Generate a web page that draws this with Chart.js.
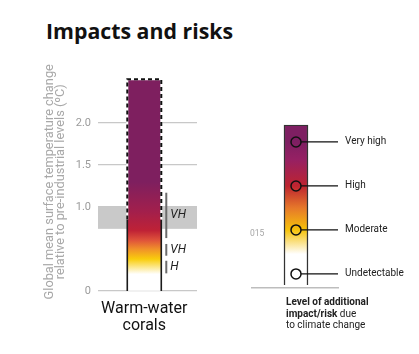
<!DOCTYPE html>
<html>
<head>
<meta charset="utf-8">
<script src="https://cdn.jsdelivr.net/npm/chart.js@4.4.1/dist/chart.umd.min.js"></script>
<style>
  html, body { margin: 0; padding: 0; background: #fff; }
  body { width: 419px; height: 354px; position: relative; overflow: hidden; font-family: Roboto, sans-serif; }
  #title { position: absolute; left: 46px; top: 19.8px; font: bold 21.3px/1 "Open Sans", sans-serif; color: #111; white-space: nowrap; }
  #main { position: absolute; left: 0; top: 0; }
  #key { position: absolute; left: 240px; top: 0; }
  #cut { position: absolute; left: 250px; top: 228px; font: 8.5px Roboto, sans-serif; color: #a5a5a5; }
  #keyNote { position: absolute; left: 286px; top: 296.4px; font: 10px/11.3px Roboto, sans-serif; color: #222; white-space: nowrap; }
</style>
</head>
<body>
<div id="title">Impacts and risks</div>
<canvas id="main" width="240" height="354"></canvas>
<canvas id="key" width="179" height="354"></canvas>
<div id="cut">015</div>
<div id="keyNote"><b>Level of additional</b><br><b>impact/risk</b> due<br>to climate change</div>
<script>
// values
const categories = [['Warm-water', 'corals']];
const barRange = [0, 2.52];          // transition bar, °C
const dashedAbove = 0.85;            // outline is dashed above this level
const yTicks = [0, 1.0, 1.5, 2.0];
const recentWarming = [0.74, 1.0];   // grey band
const bracketLow = [0.63, 0.42, 0.21];
const bracketHigh = [1.17, 0.56, 0.36];
const bracketLabels = ['VH', 'VH', 'H'];

const keyLevels = [0, 1, 2, 3];
const keyLabels = ['Undetectable', 'Moderate', 'High', 'Very high'];
const keyRange = [-0.25, 3.39];

// colour ramps (value -> colour)
const mainStops = [[0.2, '#ffffff'], [0.38, '#f9cd0c'], [0.5, '#f0902a'], [0.6, '#e0553a'], [0.72, '#bf2236'], [0.95, '#a21f4c'], [1.3, '#7e1f5f']];
const keyStops = [[0.45, '#ffffff'], [1.0, '#f6c20a'], [1.5, '#e6782a'], [2.0, '#be2430'], [2.6, '#962063'], [3.0, '#7e1f62']];

function gradientFill(chart, stops, lo, hi) {
  const y = chart.scales.y;
  const g = chart.ctx.createLinearGradient(0, y.getPixelForValue(lo), 0, y.getPixelForValue(hi));
  stops.forEach(([v, c]) => g.addColorStop(Math.min(1, Math.max(0, (v - lo) / (hi - lo))), c));
  return g;
}

const mainDecor = {
  id: 'mainDecor',
  beforeDatasetsDraw(chart) {
    const { ctx, chartArea, scales: { y } } = chart;
    const top = y.getPixelForValue(recentWarming[1]);
    const bot = y.getPixelForValue(recentWarming[0]);
    ctx.save();
    ctx.fillStyle = '#c9c9c9';
    ctx.fillRect(chartArea.left, top, chartArea.right - chartArea.left, bot - top);
    ctx.restore();
  },
  afterDatasetsDraw(chart) {
    const { ctx, scales: { y } } = chart;
    const bar = chart.getDatasetMeta(0).data[0];
    const l = bar.x - bar.width / 2, r = bar.x + bar.width / 2;
    const yTop = y.getPixelForValue(barRange[1]);
    const yDash = y.getPixelForValue(dashedAbove);
    const y0 = y.getPixelForValue(barRange[0]);
    ctx.save();
    // solid sides below the dashed part
    ctx.strokeStyle = '#1a1a1a';
    ctx.lineWidth = 1.6;
    ctx.beginPath();
    ctx.moveTo(l, y0); ctx.lineTo(l, yDash);
    ctx.moveTo(r, y0); ctx.lineTo(r, yDash);
    ctx.stroke();
    // dashed outline
    const outline = () => {
      ctx.beginPath();
      ctx.moveTo(l, yDash); ctx.lineTo(l, yTop); ctx.lineTo(r, yTop); ctx.lineTo(r, yDash);
    };
    ctx.lineWidth = 2;
    ctx.strokeStyle = '#fff';
    outline(); ctx.stroke();
    ctx.setLineDash([4, 3]);
    ctx.strokeStyle = '#111';
    outline(); ctx.stroke();
    ctx.setLineDash([]);
    // confidence brackets
    const bx = r + 5;
    ctx.strokeStyle = '#6b6b6b';
    ctx.lineWidth = 2;
    ctx.fillStyle = '#222';
    ctx.font = 'italic 12px Roboto';
    ctx.textBaseline = 'middle';
    bracketLabels.forEach((lab, i) => {
      const a = y.getPixelForValue(bracketLow[i]);
      const b = y.getPixelForValue(bracketHigh[i]);
      ctx.beginPath(); ctx.moveTo(bx, a); ctx.lineTo(bx, b); ctx.stroke();
      ctx.fillText(lab, bx + 4, (a + b) / 2);
    });
    ctx.restore();
  }
};

new Chart(document.getElementById('main'), {
  type: 'bar',
  data: {
    datasets: [{
      data: categories.map((c, i) => ({ x: i, y: barRange })),
      backgroundColor: (c) => c.chart.chartArea ? gradientFill(c.chart, mainStops, barRange[0], barRange[1]) : '#7e1f5f',
      borderWidth: 0,
      barThickness: 34
    }]
  },
  options: {
    responsive: false,
    animation: false,
    layout: { padding: { left: 0, top: 72.6, right: 43, bottom: 0 } },
    plugins: { legend: { display: false }, tooltip: { enabled: false } },
    scales: {
      x: {
        type: 'linear', min: -0.87, max: 1.13,
        grid: { display: false, drawTicks: false }, border: { display: false },
        afterBuildTicks: (s) => { s.ticks = categories.map((c, i) => ({ value: i })); },
        afterFit: (s) => { s.height = 63; },
        ticks: { callback: (v) => categories[v], color: '#111', font: { family: 'Roboto', size: 16, lineHeight: 1.1 }, padding: 9, maxRotation: 0, autoSkip: false }
      },
      y: {
        min: 0, max: 2.6,
        afterBuildTicks: (s) => { s.ticks = yTicks.map((v) => ({ value: v })); },
        afterFit: (s) => { s.width = 98; },
        grid: { color: '#c8c8c8', lineWidth: 1.2, drawTicks: false },
        border: { display: false },
        ticks: { callback: (v) => (v === 0 ? '0' : v.toFixed(1)), color: '#9b9b9b', font: { family: 'Roboto', size: 11 }, padding: 7 },
        title: {
          display: true,
          text: ['Global mean surface temperature change', 'relative to pre-industrial levels (ºC)'],
          color: '#a8a8a8',
          font: { family: 'Roboto', size: 12.8, lineHeight: 0.86 },
          padding: { top: 44.5, bottom: 0 }
        }
      }
    }
  },
  plugins: [mainDecor]
});

const keyDecor = {
  id: 'keyDecor',
  afterDatasetsDraw(chart) {
    const { ctx, chartArea } = chart;
    const pts = chart.getDatasetMeta(0).data;
    ctx.save();
    ctx.strokeStyle = '#111';
    ctx.lineWidth = 1.3;
    pts.forEach((p) => {
      ctx.beginPath();
      ctx.moveTo(p.x + 5, p.y);
      ctx.lineTo(chartArea.right, p.y);
      ctx.stroke();
    });
    ctx.restore();
  }
};

new Chart(document.getElementById('key'), {
  type: 'bar',
  data: {
    datasets: [
      {
        type: 'scatter',
        data: keyLevels.map((v) => ({ x: 0, y: v })),
        pointRadius: 5,
        pointBorderWidth: 1.5,
        pointBorderColor: '#111',
        pointBackgroundColor: 'rgba(0,0,0,0)',
        order: 0
      },
      {
        data: [{ x: 0, y: keyRange }],
        backgroundColor: (c) => c.chart.chartArea ? gradientFill(c.chart, keyStops, keyRange[0], keyRange[1]) : '#7e1f62',
        borderColor: '#333',
        borderWidth: 1.5,
        borderSkipped: 'bottom',
        barThickness: 24,
        order: 1
      }
    ]
  },
  options: {
    responsive: false,
    animation: false,
    layout: { padding: { left: 12, top: 124.8, right: 0, bottom: 0 } },
    plugins: { legend: { display: false }, tooltip: { enabled: false } },
    scales: {
      x: {
        type: 'linear', min: -0.6, max: 0.547,
        grid: { display: false, drawTicks: false }, ticks: { display: false },
        border: { color: '#bdbdbd', width: 1.5 },
        afterFit: (s) => { s.height = 66; }
      },
      y: {
        position: 'right', min: -0.32, max: 3.39,
        afterBuildTicks: (s) => { s.ticks = keyLevels.map((v) => ({ value: v })); },
        afterFit: (s) => { s.width = 81; },
        grid: { display: false, drawTicks: false }, border: { display: false },
        ticks: { callback: (v) => keyLabels[keyLevels.indexOf(v)], color: '#222', font: { family: 'Roboto', size: 10 }, padding: 7 }
      }
    }
  },
  plugins: [keyDecor]
});
</script>
</body>
</html>
